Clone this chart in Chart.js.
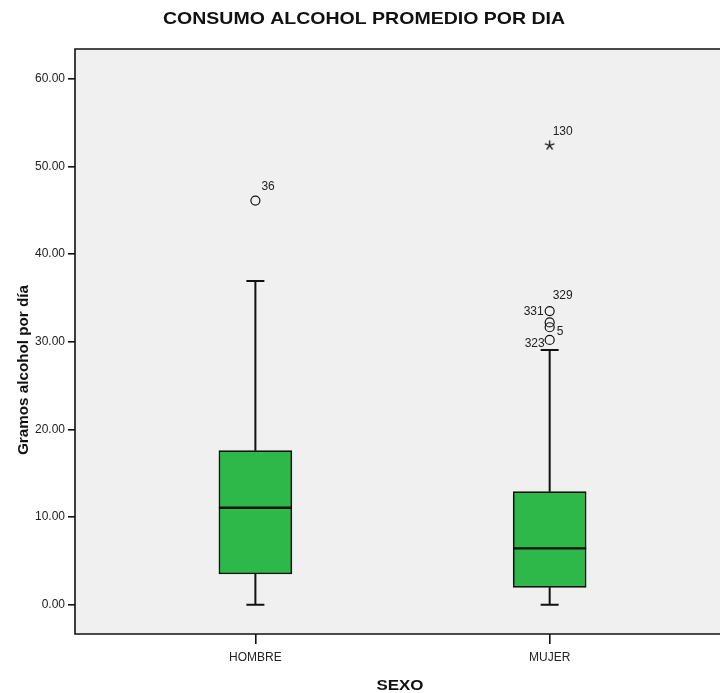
<!DOCTYPE html>
<html><head><meta charset="utf-8">
<script src="https://cdn.jsdelivr.net/npm/chart.js@4"></script>
<style>html,body{margin:0;padding:0;background:#fff}#wrap{width:720px;height:693px}</style>
</head><body><div id="wrap"><canvas id="c" width="720" height="693"></canvas></div>
<script>
// ---- data ----
const categories = ['HOMBRE', 'MUJER'];
const whiskerLow = [0, 0];
const q1 = [3.5, 1.98];
const median = [11.06, 6.43];
const q3 = [17.57, 12.9];
const whiskerHigh = [36.92, 29.05];
const outlierGroup = [0, 1, 1, 1, 1];
const outlierValues = [46.1, 33.5, 32.2, 31.65, 30.2];
const outlierLabels = ['36', '329', '331', '5', '323'];
const extremeGroup = [1];
const extremeValues = [52.4];
const extremeLabels = ['130'];
const yTicks = [0, 10, 20, 30, 40, 50, 60];
const chartTitle = 'CONSUMO ALCOHOL PROMEDIO POR DIA';
const xTitle = 'SEXO';
const yTitle = 'Gramos alcohol por día';

// ---- style (label offsets in px) ----
const outlierLabelOffsets = [[6, -13.5, 'left'], [3, -15, 'left'], [-6, -10.5, 'right'], [7, 4, 'left'], [-5, 4, 'right']];
const extremeLabelOffsets = [[3, -14, 'left']];
const FONT = '"Liberation Sans", Arial, sans-serif';
const INK = '#111';

const boxData = categories.map((c, i) => ({x: i, y: [q1[i], q3[i]]}));
const outlierData = outlierValues.map((v, i) => ({x: outlierGroup[i], y: v}));
const extremeData = extremeValues.map((v, i) => ({x: extremeGroup[i], y: v}));

// asterisk marker for extreme values
const star = document.createElement('canvas');
star.width = 13; star.height = 13;
(function () {
  const c = star.getContext('2d');
  c.strokeStyle = INK; c.lineWidth = 1.3; c.lineCap = 'butt';
  c.beginPath();
  for (let k = 0; k < 5; k++) {
    const ang = -Math.PI / 2 + k * 2 * Math.PI / 5;
    c.moveTo(6.5, 6.5);
    c.lineTo(6.5 + 5 * Math.cos(ang), 6.5 + 5 * Math.sin(ang));
  }
  c.stroke();
})();

function drawStretched(ctx, text, x, y, font, targetW, rotate) {
  ctx.save();
  ctx.font = font;
  const w = ctx.measureText(text).width;
  const s = targetW / w;
  ctx.translate(x, y);
  if (rotate) ctx.rotate(-Math.PI / 2);
  ctx.scale(s, 1);
  ctx.textAlign = 'center';
  ctx.textBaseline = 'alphabetic';
  ctx.fillStyle = INK;
  ctx.fillText(text, 0, 0);
  ctx.restore();
}

const deco = {
  id: 'deco',
  beforeDraw(chart) {
    const {ctx, chartArea: a} = chart;
    ctx.save();
    ctx.fillStyle = '#f0f0f0';
    ctx.fillRect(a.left, a.top, 720 - a.left, a.bottom - a.top);
    ctx.restore();
  },
  afterDatasetsDraw(chart) {
    const {ctx, chartArea: a, scales} = chart;
    const xs = scales.x, ys = scales.y;
    const bars = chart.getDatasetMeta(0).data;
    ctx.save();
    ctx.strokeStyle = INK;
    ctx.lineCap = 'butt';
    categories.forEach((c, i) => {
      const x = xs.getPixelForValue(i);
      const yl = ys.getPixelForValue(whiskerLow[i]);
      const yh = ys.getPixelForValue(whiskerHigh[i]);
      const y1 = ys.getPixelForValue(q1[i]);
      const y3 = ys.getPixelForValue(q3[i]);
      ctx.lineWidth = 2;
      ctx.beginPath();
      ctx.moveTo(x, y3); ctx.lineTo(x, yh);
      ctx.moveTo(x, y1); ctx.lineTo(x, yl);
      ctx.moveTo(x - 9, yh); ctx.lineTo(x + 9, yh);
      ctx.moveTo(x - 9, yl); ctx.lineTo(x + 9, yl);
      ctx.stroke();
      const b = bars[i];
      const ym = ys.getPixelForValue(median[i]);
      ctx.lineWidth = 2.4;
      ctx.beginPath();
      ctx.moveTo(b.x - b.width / 2, ym); ctx.lineTo(b.x + b.width / 2, ym);
      ctx.stroke();
    });
    // frame
    ctx.lineWidth = 1.6;
    ctx.beginPath();
    ctx.moveTo(722, a.top); ctx.lineTo(a.left, a.top); ctx.lineTo(a.left, a.bottom); ctx.lineTo(722, a.bottom);
    ctx.stroke();
    // point labels
    ctx.font = '12px ' + FONT;
    ctx.fillStyle = '#222';
    ctx.textBaseline = 'middle';
    outlierValues.forEach((v, i) => {
      const o = outlierLabelOffsets[i];
      ctx.textAlign = o[2];
      ctx.fillText(outlierLabels[i], xs.getPixelForValue(outlierGroup[i]) + o[0], ys.getPixelForValue(v) + o[1]);
    });
    extremeValues.forEach((v, i) => {
      const o = extremeLabelOffsets[i];
      ctx.textAlign = o[2];
      ctx.fillText(extremeLabels[i], xs.getPixelForValue(extremeGroup[i]) + o[0], ys.getPixelForValue(v) + o[1]);
    });
    ctx.restore();
  },
  afterDraw(chart) {
    const {ctx} = chart;
    drawStretched(ctx, chartTitle, 364, 24, 'bold 17px ' + FONT, 402, false);
    drawStretched(ctx, xTitle, 400, 690, 'bold 14px ' + FONT, 47, false);
    drawStretched(ctx, yTitle, 28, 370, 'bold 14px ' + FONT, 170, true);
  }
};

new Chart(document.getElementById('c'), {
  data: {
    datasets: [
      {type: 'bar', data: boxData, backgroundColor: '#2eb84a', borderColor: INK, borderWidth: 1.6,
       borderSkipped: false, barThickness: 73, order: 2},
      {type: 'scatter', data: outlierData, pointStyle: 'circle', pointRadius: 4.5, pointBackgroundColor: 'rgba(0,0,0,0)',
       pointBorderColor: INK, pointBorderWidth: 1.2, order: 1},
      {type: 'scatter', data: extremeData, pointStyle: star, pointRadius: 6, order: 1}
    ]
  },
  options: {
    responsive: false,
    animation: false,
    devicePixelRatio: 1,
    layout: {padding: {top: 49, left: 0, right: 0, bottom: 0}},
    plugins: {legend: {display: false}, title: {display: false}, tooltip: {enabled: false}},
    scales: {
      x: {
        type: 'linear', min: -0.613, max: 1.555, offset: false,
        afterBuildTicks: s => { s.ticks = categories.map((c, i) => ({value: i})); },
        afterFit: s => { s.height = 59; s.paddingLeft = 0; s.paddingRight = 0; },
        ticks: {callback: (v) => categories[v], font: {family: FONT, size: 12}, color: '#222', padding: 6, maxRotation: 0, autoSkip: false},
        grid: {offset: false, drawOnChartArea: false, drawTicks: true, tickLength: 10, color: INK, lineWidth: 1.6},
        border: {display: false}
      },
      y: {
        type: 'linear', min: -3.34, max: 63.39,
        afterBuildTicks: s => { s.ticks = yTicks.map(v => ({value: v})); },
        afterFit: s => { s.width = 75; },
        ticks: {callback: v => Number(v).toFixed(2), font: {family: FONT, size: 12}, color: '#222', padding: 3},
        grid: {drawOnChartArea: false, drawTicks: true, tickLength: 7, color: INK, lineWidth: 1.6},
        border: {display: false}
      }
    }
  },
  plugins: [deco]
});
</script>
</body></html>
